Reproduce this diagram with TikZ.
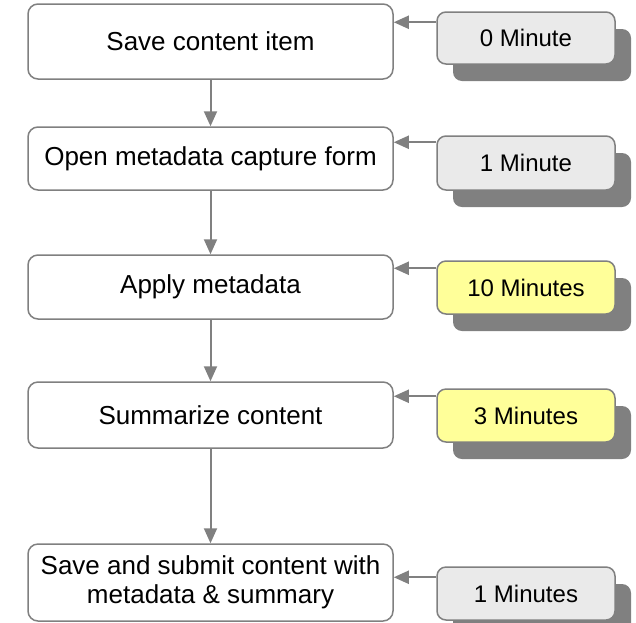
\documentclass[tikz,border=0pt]{standalone}
\usepackage{fontspec}
\setmainfont{Liberation Sans}
\usetikzlibrary{arrows.meta,shadows}
\definecolor{edgegray}{RGB}{128,128,128}
\definecolor{boxgray}{RGB}{234,234,234}
\definecolor{boxyellow}{RGB}{255,255,153}
\definecolor{shadowgray}{RGB}{128,128,128}
\begin{document}
\begin{tikzpicture}[x=1pt,y=-1pt,
  stepbox/.style={draw=edgegray,line width=1.5pt,rounded corners=10pt,fill=white,
    minimum width=365pt,inner sep=0pt,align=center,font=\fontsize{26}{29}\selectfont},
  timebox/.style={draw=edgegray,line width=1.5pt,rounded corners=9pt,
    minimum width=178pt,minimum height=53pt,inner sep=0pt,font=\fontsize{24}{28}\selectfont,
    drop shadow={shadow xshift=16pt,shadow yshift=-17pt,fill=shadowgray,opacity=1,rounded corners=9pt}},
  arr/.style={draw=edgegray,line width=2pt,-{Triangle[length=15pt,width=13pt]}}]
\useasboundingbox (0,0) rectangle (636,622);
\node[stepbox,minimum height=75pt] (b1) at (210.5,41.5) {Save content item};
\node[stepbox,minimum height=63pt] (b2) at (210.5,158.5) {Open metadata capture form};
\node[stepbox,minimum height=64pt] (b3) at (210.5,287) {Apply metadata};
\node[stepbox,minimum height=66pt] (b4) at (210.5,415) {Summarize content};
\node[stepbox,minimum height=77pt] (b5) at (210.5,582.5) {Save and submit content with\\metadata \& summary};
\node[timebox,fill=boxgray,minimum height=52pt] (t1) at (526,38) {0 Minute};
\node[timebox,fill=boxgray,minimum height=54pt] (t2) at (526,163) {1 Minute};
\node[timebox,fill=boxyellow] (t3) at (526,287.5) {10 Minutes};
\node[timebox,fill=boxyellow] (t4) at (526,415.5) {3 Minutes};
\node[timebox,fill=boxgray] (t5) at (526,593.5) {1 Minutes};
\draw[arr] (b1) -- (b2);
\draw[arr] (b2) -- (b3);
\draw[arr] (b3) -- (b4);
\draw[arr] (b4) -- (b5);
\path (t1.north west) ++(0,11) coordinate (a1);
\path (t2.north west) ++(0,7) coordinate (a2);
\path (t3.north west) ++(0,8) coordinate (a3);
\path (t4.north west) ++(0,8) coordinate (a4);
\path (t5.north west) ++(0,11) coordinate (a5);
\draw[arr] (a1) -- (a1 -| b1.east);
\draw[arr] (a2) -- (a2 -| b2.east);
\draw[arr] (a3) -- (a3 -| b3.east);
\draw[arr] (a4) -- (a4 -| b4.east);
\draw[arr] (a5) -- (a5 -| b5.east);
\end{tikzpicture}
\end{document}
